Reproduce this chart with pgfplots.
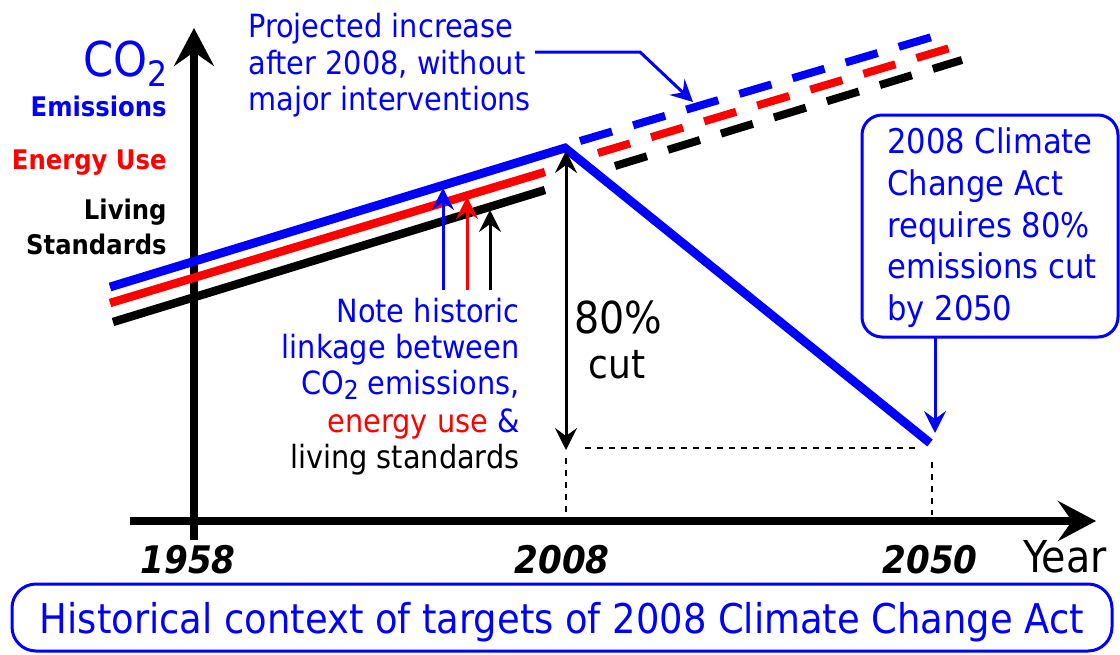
\documentclass[border=0pt]{standalone}
\usepackage{pgfplots}
\pgfplotsset{compat=1.18}
\usetikzlibrary{arrows.meta}
\usepackage{fontspec}
\setmainfont{DejaVu Sans Condensed}
\definecolor{cblue}{RGB}{0,0,255}
\definecolor{cred}{RGB}{255,0,0}
\newcommand{\fs}[1]{\fontsize{#1}{#1}\selectfont}
\begin{document}
\begin{tikzpicture}
\begin{axis}[
  width=560pt, height=327pt, scale only axis,
  xmin=0, xmax=1120, ymin=0, ymax=654, y dir=reverse,
  hide axis, clip=false,
]
% axes
\draw[line width=4pt, -{Stealth[length=19pt,width=20pt,inset=7pt]}] (194,540) -- (194,28);
\draw[line width=4pt, -{Stealth[length=19pt,width=20pt,inset=7pt]}] (130,521) -- (1096,521);
% historic lines
\addplot[cblue, line width=4.4pt] coordinates {(110,287) (565,148) (930,443)};
\addplot[cred, line width=4.2pt] coordinates {(110,303) (545,172)};
\addplot[black, line width=4.2pt] coordinates {(113,322) (545,190)};
% projections
\addplot[cblue, line width=4pt, dash pattern=on 16.7pt off 11pt] coordinates {(580,141) (932,37)};
\addplot[cred, line width=4pt, dash pattern=on 16.7pt off 11pt] coordinates {(598,153) (950,48)};
\addplot[black, line width=4pt, dash pattern=on 16.7pt off 11pt] coordinates {(615,166) (962,60)};
% small arrows
\draw[cblue, line width=1.5pt, -{Stealth[length=11pt,width=11pt,inset=4pt]}] (443,290) -- (443,188);
\draw[cred, line width=1.5pt, -{Stealth[length=11pt,width=11pt,inset=4pt]}] (467,290) -- (467,197);
\draw[black, line width=1.5pt, -{Stealth[length=11pt,width=11pt,inset=4pt]}] (490,290) -- (490,210);
% 80% cut arrow
\draw[black, line width=1.5pt, {Stealth[length=11pt,width=11pt,inset=4pt]}-{Stealth[length=11pt,width=11pt,inset=4pt]}] (566,151) -- (566,450);
\draw[black, line width=0.7pt, dash pattern=on 3pt off 3pt] (585,448) -- (920,448);
\draw[black, line width=0.7pt, dash pattern=on 3pt off 3pt] (566,458) -- (566,515);
\draw[black, line width=0.7pt, dash pattern=on 3pt off 3pt] (932,462) -- (932,515);
% projected arrow
\draw[cblue, line width=1.5pt, -{Stealth[length=11pt,width=11pt,inset=4pt]}] (535,52) -- (640,52) -- (693,102);
% callout
\draw[cblue, line width=1.5pt, rounded corners=10pt] (862,115) rectangle (1118,337);
\draw[cblue, line width=1.5pt, -{Stealth[length=11pt,width=11pt,inset=4pt]}] (935,337) -- (935,433);
\node[cblue, anchor=base west, inner sep=0pt, font=\fs{17}] at (887,153) {2008 Climate};
\node[cblue, anchor=base west, inner sep=0pt, font=\fs{17}] at (887,195) {Change Act};
\node[cblue, anchor=base west, inner sep=0pt, font=\fs{17}] at (887,237) {requires 80\%};
\node[cblue, anchor=base west, inner sep=0pt, font=\fs{17}] at (887,278) {emissions cut};
\node[cblue, anchor=base west, inner sep=0pt, font=\fs{17}] at (887,320) {by 2050};
% projected text
\node[cblue, anchor=base west, inner sep=0pt, font=\fs{16}] at (248,37) {Projected increase};
\node[cblue, anchor=base west, inner sep=0pt, font=\fs{16}] at (248,74) {after 2008, without};
\node[cblue, anchor=base west, inner sep=0pt, font=\fs{16}] at (248,110) {major interventions};
% note text
\node[cblue, anchor=base east, inner sep=0pt, font=\fs{16}] at (520,322) {Note historic};
\node[cblue, anchor=base east, inner sep=0pt, font=\fs{16}] at (520,358) {linkage between};
\node[cblue, anchor=base east, inner sep=0pt, font=\fs{16}] at (520,394) {CO\raisebox{-2.5pt}{\fs{13}2} emissions,};
\node[anchor=base east, inner sep=0pt, font=\fs{16}] at (520,432) {\textcolor{cred}{energy use} \textcolor{cblue}{\&}};
\node[black, anchor=base east, inner sep=0pt, font=\fs{16}] at (520,468) {living standards};
% left labels
\node[cblue, anchor=base east, inner sep=0pt, font=\fs{24}] at (168,76) {CO\raisebox{-5pt}{\fs{17.5}2}};
\node[cblue, anchor=base east, inner sep=0pt, font=\bfseries\fs{13.5}] at (167,116) {Emissions};
\node[cred, anchor=base east, inner sep=0pt, font=\bfseries\fs{13.5}] at (167,169) {Energy Use};
\node[black, anchor=base east, inner sep=0pt, font=\bfseries\fs{13.5}] at (167,219) {Living};
\node[black, anchor=base east, inner sep=0pt, font=\bfseries\fs{13.5}] at (167,254) {Standards};
% 80% cut
\node[black, anchor=base, inner sep=0pt, font=\fs{22}] at (618,333) {80\%};
\node[black, anchor=base, inner sep=0pt, font=\fs{20}] at (617,378) {cut};
% years
\node[black, anchor=base, inner sep=0pt, font=\bfseries\itshape\fs{19}] at (188,573) {1958};
\node[black, anchor=base, inner sep=0pt, font=\bfseries\itshape\fs{19}] at (562,573) {2008};
\node[black, anchor=base, inner sep=0pt, font=\bfseries\itshape\fs{19}] at (930,573) {2050};
\node[black, anchor=base, inner sep=0pt, font=\fs{22}] at (1065,572) {Year};
% bottom box
\draw[cblue, line width=1.5pt, rounded corners=12pt] (12,584) rectangle (1112,651);
\node[cblue, anchor=base, inner sep=0pt, font=\fs{20.5}] at (562,633) {Historical context of targets of 2008 Climate Change Act};
\end{axis}
\pgfresetboundingbox
\path (current axis.south west) rectangle (current axis.north east);
\end{tikzpicture}
\end{document}
